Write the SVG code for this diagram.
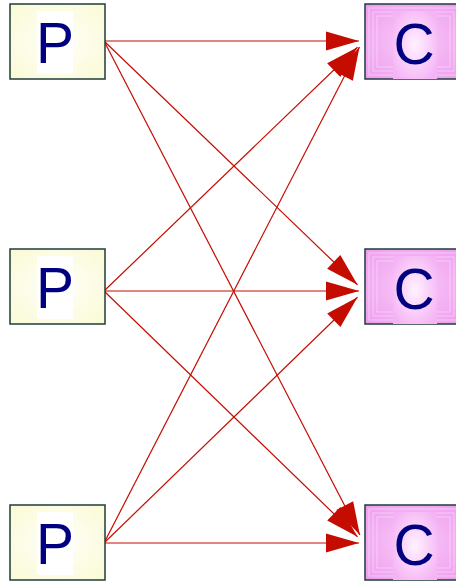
<svg xmlns="http://www.w3.org/2000/svg" width="456" height="582" viewBox="0 0 456 582">
  <style>
    .pbox { fill: url(#pfill); stroke: #1f3b3b; stroke-width: 1.5; }
    .cbox { fill: url(#cfill); stroke: #1f3b3b; stroke-width: 1.5; }
    .ring { fill: none; stroke: #ffffff; stroke-width: 1; opacity: 0.4; }
    .plabel-bg { fill: #ffffff; }
    .clabel-bg { fill: url(#cinner); }
    .label { font-family: "Liberation Sans", Arial, sans-serif; font-size: 57px; fill: #000080; text-anchor: middle; }
    .edge { fill: none; stroke: #c40c00; stroke-width: 1.2; marker-end: url(#head); }
  </style>
  <defs>
    <radialGradient id="pfill" cx="0.5" cy="0.5" r="0.7">
      <stop offset="0" stop-color="#ffffff"/>
      <stop offset="1" stop-color="#fafad0"/>
    </radialGradient>
    <radialGradient id="cfill" cx="0.5" cy="0.5" r="0.7">
      <stop offset="0" stop-color="#f9cbf9"/>
      <stop offset="1" stop-color="#ee9cee"/>
    </radialGradient>
    <radialGradient id="cinner" cx="0.5" cy="0.5" r="0.6">
      <stop offset="0" stop-color="#fff2ff"/>
      <stop offset="1" stop-color="#f5b4f5"/>
    </radialGradient>
    <marker id="head" viewBox="-34 -11 36 22" refX="0" refY="0" markerWidth="36" markerHeight="22" markerUnits="userSpaceOnUse" orient="auto">
      <path d="M0,0 L-33,-9.5 L-33,9.5 Z" fill="#c40c00"/>
    </marker>
  </defs>

  <!-- connectors: every producer feeds every consumer -->
  <g id="connectors">
    <line class="edge" x1="104" y1="41" x2="359" y2="41"/>
    <line class="edge" x1="104" y1="41" x2="357.5" y2="284.8"/>
    <line class="edge" x1="104" y1="41" x2="359.9" y2="535"/>
    <line class="edge" x1="104" y1="291" x2="357.5" y2="47.2"/>
    <line class="edge" x1="104" y1="291" x2="359" y2="291"/>
    <line class="edge" x1="104" y1="291" x2="357.5" y2="536.7"/>
    <line class="edge" x1="104" y1="543" x2="359.5" y2="47"/>
    <line class="edge" x1="104" y1="543" x2="357.5" y2="297.3"/>
    <line class="edge" x1="104" y1="543" x2="359" y2="543"/>
  </g>

  <!-- producers -->
  <g id="p1">
    <rect class="pbox" x="10" y="4" width="95" height="75"/>
    <rect class="ring" x="14" y="8" width="87" height="67"/>
    <rect class="ring" x="18" y="12" width="79" height="59"/>
    <rect class="plabel-bg" x="37" y="11" width="36" height="63"/>
    <text class="label" x="55" y="63">P</text>
  </g>
  <g id="p2">
    <rect class="pbox" x="10" y="249" width="95" height="75"/>
    <rect class="ring" x="14" y="253" width="87" height="67"/>
    <rect class="ring" x="18" y="257" width="79" height="59"/>
    <rect class="plabel-bg" x="37" y="256" width="36" height="63"/>
    <text class="label" x="55" y="308">P</text>
  </g>
  <g id="p3">
    <rect class="pbox" x="10" y="505" width="95" height="75"/>
    <rect class="ring" x="14" y="509" width="87" height="67"/>
    <rect class="ring" x="18" y="513" width="79" height="59"/>
    <rect class="plabel-bg" x="37" y="512" width="36" height="63"/>
    <text class="label" x="55" y="564">P</text>
  </g>

  <!-- consumers -->
  <g id="c1">
    <rect class="cbox" x="365" y="4" width="97" height="75"/>
    <rect class="ring" x="369" y="8" width="89" height="67"/>
    <rect class="ring" x="373" y="12" width="81" height="59"/>
    <rect class="ring" x="377" y="16" width="73" height="51"/>
    <rect class="clabel-bg" x="393" y="11" width="44" height="68"/>
    <text class="label" x="414" y="64">C</text>
  </g>
  <g id="c2">
    <rect class="cbox" x="365" y="249" width="97" height="75"/>
    <rect class="ring" x="369" y="253" width="89" height="67"/>
    <rect class="ring" x="373" y="257" width="81" height="59"/>
    <rect class="ring" x="377" y="261" width="73" height="51"/>
    <rect class="clabel-bg" x="393" y="256" width="44" height="68"/>
    <text class="label" x="414" y="309">C</text>
  </g>
  <g id="c3">
    <rect class="cbox" x="365" y="505" width="97" height="75"/>
    <rect class="ring" x="369" y="509" width="89" height="67"/>
    <rect class="ring" x="373" y="513" width="81" height="59"/>
    <rect class="ring" x="377" y="517" width="73" height="51"/>
    <rect class="clabel-bg" x="393" y="512" width="44" height="68"/>
    <text class="label" x="414" y="565">C</text>
  </g>
</svg>
